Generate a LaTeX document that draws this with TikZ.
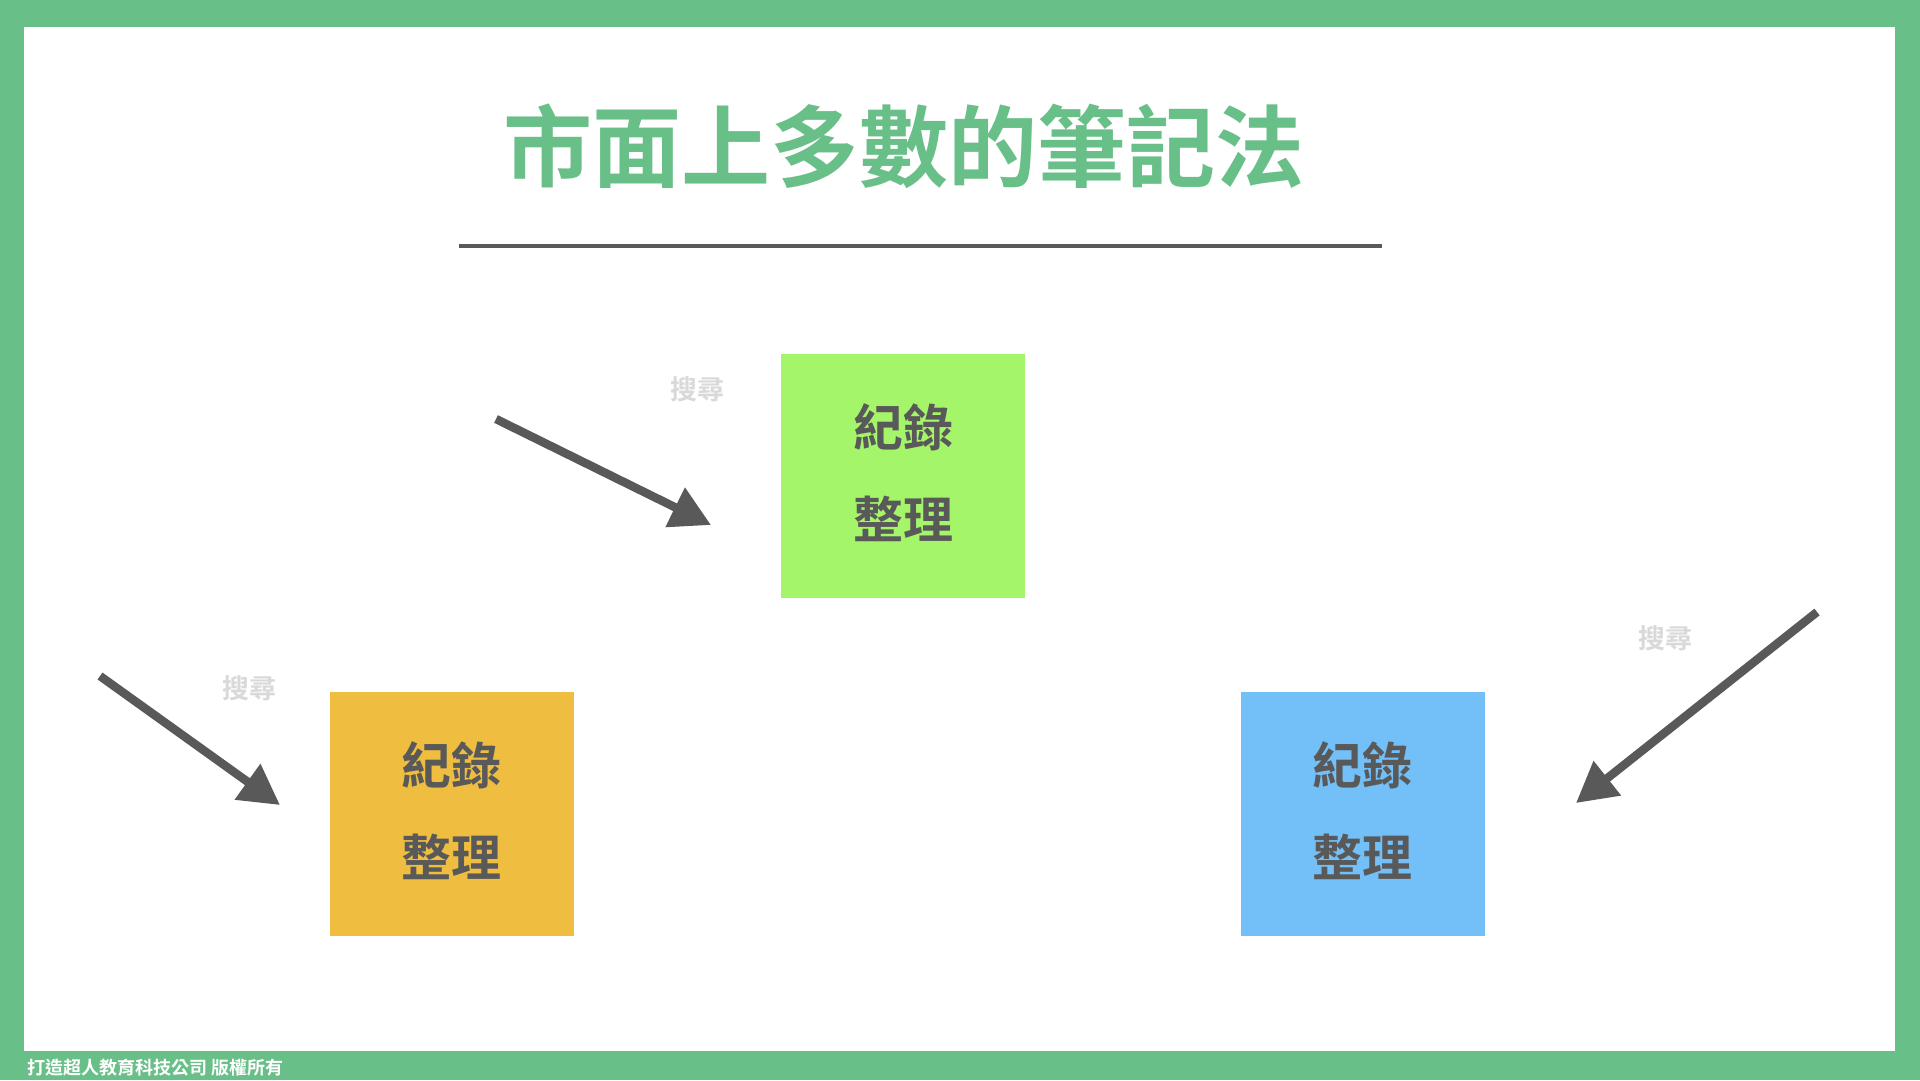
\documentclass[tikz,border=0pt]{standalone}
\usepackage{fontspec}
\setmainfont{Noto Sans CJK TC}[BoldFont={Noto Sans CJK TC Bold}]
\usetikzlibrary{arrows.meta}
\definecolor{frameg}{HTML}{69BF88}
\definecolor{titleg}{HTML}{69BF88}
\definecolor{darkg}{HTML}{595959}
\definecolor{lightg}{HTML}{D9D9D9}
\definecolor{boxgreen}{HTML}{A5F56B}
\definecolor{boxorange}{HTML}{EFBD40}
\definecolor{boxblue}{HTML}{73BFF8}
\tikzset{
  card/.style={minimum width=244pt, minimum height=244pt, inner sep=0pt, outer sep=0pt, align=center, text=darkg, font=\fontsize{50}{92}\selectfont\bfseries},
  cardtext/.style={text=darkg, font=\fontsize{50}{92}\selectfont\bfseries, align=center, inner sep=0pt},
  searchlbl/.style={text=lightg, font=\fontsize{27}{30}\selectfont\bfseries, inner sep=0pt},
  bigarrow/.style={draw=darkg, line width=8.5pt, -{Triangle[length=40pt,width=42pt]}}
}
\begin{document}
\begin{tikzpicture}[x=1pt,y=-1pt]
\useasboundingbox (0,0) rectangle (1920,1080);
\fill[frameg] (0,0) rectangle (1920,1080);
\fill[white] (24,27) rectangle (1895,1051);
\node[text=titleg, font=\fontsize{89}{92}\selectfont\bfseries, inner sep=0pt] (title) at (904,146) {市面上多數的筆記法};
\coordinate (ruleL) at (459,246);
\coordinate (ruleR) at (1382,246);
\draw[darkg, line width=4pt] (ruleL) -- (ruleR);
\node[card, fill=boxgreen] (green) at (903,476) {};
\node[card, fill=boxorange] (orange) at (451.5,813.5) {};
\node[card, fill=boxblue] (blue) at (1362.5,813.5) {};
\node[cardtext] (greent) at ([yshift=3pt]green.center) {紀錄\\整理};
\node[cardtext] (oranget) at ([yshift=3pt]orange.center) {紀錄\\整理};
\node[cardtext] (bluet) at ([yshift=3pt]blue.center) {紀錄\\整理};
\node[searchlbl] (s1) at (697,389) {搜尋};
\node[searchlbl] (s2) at (249,688) {搜尋};
\node[searchlbl] (s3) at (1665,638) {搜尋};
\coordinate (a1s) at (496,419);
\coordinate (a1e) at (711,525);
\coordinate (a2s) at (100,676);
\coordinate (a2e) at (280,805);
\coordinate (a3s) at (1817,612);
\coordinate (a3e) at (1576,803);
\draw[bigarrow] (a1s) -- (a1e);
\draw[bigarrow] (a2s) -- (a2e);
\draw[bigarrow] (a3s) -- (a3e);
\node[text=white, font=\fontsize{18}{20}\selectfont\bfseries, inner sep=0pt, anchor=west] (footer) at (27,1068) {打造超人教育科技公司 版權所有};
\end{tikzpicture}
\end{document}
